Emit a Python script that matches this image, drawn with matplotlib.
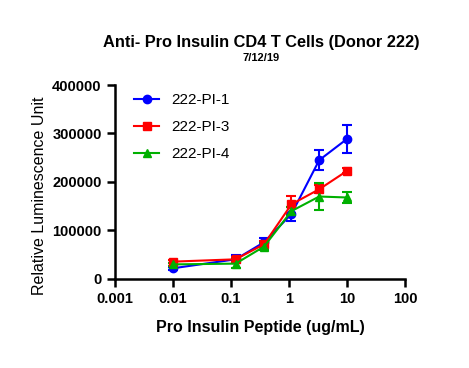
import numpy as np
import matplotlib
matplotlib.use('Agg')
from matplotlib import pyplot as plt
from matplotlib.lines import Line2D

plt.rcParams['font.family'] = ['Liberation Sans', 'DejaVu Sans']

# Peptide concentrations (ug/mL)
conc = [0.01, 0.12, 0.37, 1.1, 3.3, 10]

pi1 = [22000, 40500, 75600, 134000, 245000, 289000]
pi1_err = [3000, 8000, 8000, 14000, 20000, 29000]
pi3 = [35700, 40500, 71500, 154000, 185000, 223000]
pi3_err = [3000, 5000, 6000, 17000, 8000, 5000]
pi4 = [30000, 31600, 66700, 140000, 170000, 168000]
pi4_err = [3000, 10000, 7000, 8000, 27000, 12000]

labels = ['222-PI-1', '222-PI-3', '222-PI-4']
colors = ['#0000ff', '#ff0000', '#00b000']
markers = ['o', 's', '^']

fig = plt.figure(figsize=(4.69, 3.68), dpi=100)
ax = fig.add_axes([0.245, 0.242, 0.619, 0.527])

handles = []
for y, err, lab, c, m in zip([pi1, pi3, pi4], [pi1_err, pi3_err, pi4_err],
                             labels, colors, markers):
    ax.errorbar(conc, y, yerr=err, color=c, marker=m, markersize=6,
                linewidth=1.5, elinewidth=1.5, capsize=3.5, capthick=1.5)
    handles.append(Line2D([], [], color=c, marker=m, markersize=6,
                          linewidth=1.5, label=lab))

ax.set_xscale('log')
ax.set_xlim(0.001, 100)
ax.set_ylim(0, 400000)
ax.set_xticks([0.001, 0.01, 0.1, 1, 10, 100])
ax.set_xticklabels(['0.001', '0.01', '0.1', '1', '10', '100'])
ax.xaxis.set_minor_locator(matplotlib.ticker.NullLocator())
ax.set_yticks([0, 100000, 200000, 300000, 400000])
ax.set_yticklabels(['0', '100000', '200000', '300000', '400000'])

for s in ['top', 'right']:
    ax.spines[s].set_visible(False)
for s in ['left', 'bottom']:
    ax.spines[s].set_linewidth(1.8)
ax.tick_params(width=1.8, length=6, labelsize=10.5)
for t in ax.get_xticklabels() + ax.get_yticklabels():
    t.set_fontweight('bold')

ax.set_xlabel('Pro Insulin Peptide (ug/mL)', fontsize=11.5, fontweight='bold',
              labelpad=10)
ax.set_ylabel('Relative Luminescence Unit', fontsize=11.5)
ax.yaxis.set_label_coords(-0.235, 0.43)

fig.text(0.557, 0.885, 'Anti- Pro Insulin CD4 T Cells (Donor 222)',
         ha='center', va='center', fontsize=11.8, fontweight='bold')
fig.text(0.557, 0.842, '7/12/19', ha='center', va='center', fontsize=8,
         fontweight='bold')

ax.legend(handles=handles, loc='upper left', frameon=False, fontsize=11,
          bbox_to_anchor=(0.02, 1.03), handlelength=1.6, labelspacing=0.85)

fig.savefig('out.png', dpi=100)
